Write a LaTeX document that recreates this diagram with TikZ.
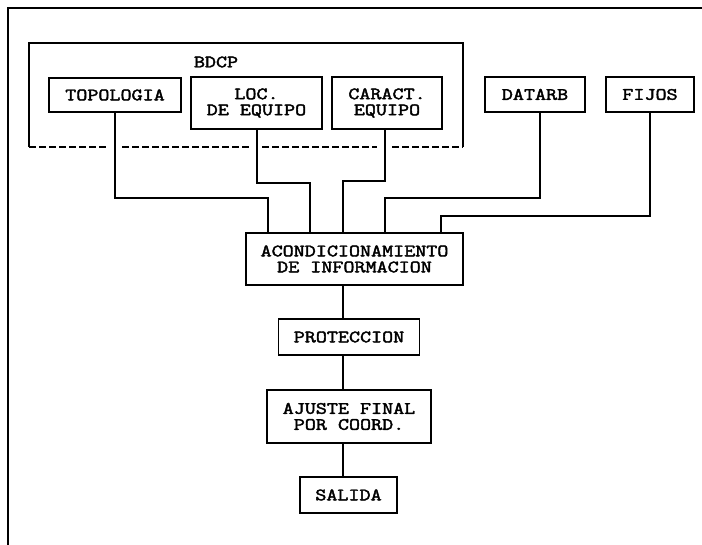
\documentclass[tikz,border=0pt]{standalone}
\usepackage{fontspec}
\newfontfamily\diagfont[FakeBold=2.5,FakeStretch=1.24]{Latin Modern Mono}
\begin{document}
\begin{tikzpicture}[x=1pt,y=-1pt,
  lbl/.style={font=\diagfont\fontsize{17.3}{16}\selectfont},
  box/.style={lbl,draw,line width=1.4pt,inner sep=0pt,align=center},
  conn/.style={line width=1.3pt},
  bdash/.style={line width=1.4pt,dash pattern=on 7pt off 3pt}]
\useasboundingbox (0,0) rectangle (702,545);
% outer frame
\draw[line width=1.4pt] (702,8) -- (8,8) -- (8,545);
% BDCP group
\draw[line width=1.4pt] (29,147) -- (29,43) -- (463,43) -- (463,147);
\draw[bdash] (29,147) -- (108,147);
\draw[bdash] (122,147) -- (249,147);
\draw[bdash] (262,147) -- (377,147);
\draw[bdash] (392,147) -- (463,147);
\node[lbl] (bdcp) at (216,62) {BDCP};
% boxes
\node[box,minimum width=132pt,minimum height=34pt] (topo) at (115,95) {TOPOLOGIA};
\node[box,minimum width=131pt,minimum height=52pt] (loc) at (256.5,103) {LOC.\\DE EQUIPO};
\node[box,minimum width=110pt,minimum height=52pt] (car) at (387,103) {CARACT.\\EQUIPO};
\node[box,minimum width=100pt,minimum height=35pt] (dat) at (535,94.5) {DATARB};
\node[box,minimum width=88pt,minimum height=35pt] (fij) at (650,94.5) {FIJOS};
\node[box,minimum width=217pt,minimum height=52pt] (acond) at (354.5,259) {ACONDICIONAMIENTO\\DE INFORMACION};
\node[box,minimum width=141pt,minimum height=36pt] (prot) at (349,337) {PROTECCION};
\node[box,minimum width=164pt,minimum height=53pt] (ajus) at (349,416.5) {AJUSTE FINAL\\POR COORD.};
\node[box,minimum width=97pt,minimum height=36pt] (sal) at (348.5,495) {SALIDA};
% connector reference coordinates
\coordinate (c1) at (268,198);
\coordinate (c2) at (310,183);
\coordinate (c3) at (343,181);
\coordinate (c4) at (385,198);
\coordinate (c5) at (441,216);
\coordinate (axis) at (343,0);
% connectors
\draw[conn] (topo.south) |- (c1) -- (acond.north -| c1);
\draw[conn] ([xshift=0.5pt]loc.south) |- (c2) -- (acond.north -| c2);
\draw[conn] ([xshift=-2pt]car.south) |- (c3) -- (acond.north -| c3);
\draw[conn] ([xshift=5pt]dat.south) |- (c4) -- (acond.north -| c4);
\draw[conn] (fij.south) |- (c5) -- (acond.north -| c5);
\draw[conn] (acond.south -| axis) -- (prot.north -| axis);
\draw[conn] (prot.south -| axis) -- (ajus.north -| axis);
\draw[conn] (ajus.south -| axis) -- (sal.north -| axis);
\end{tikzpicture}
\end{document}
